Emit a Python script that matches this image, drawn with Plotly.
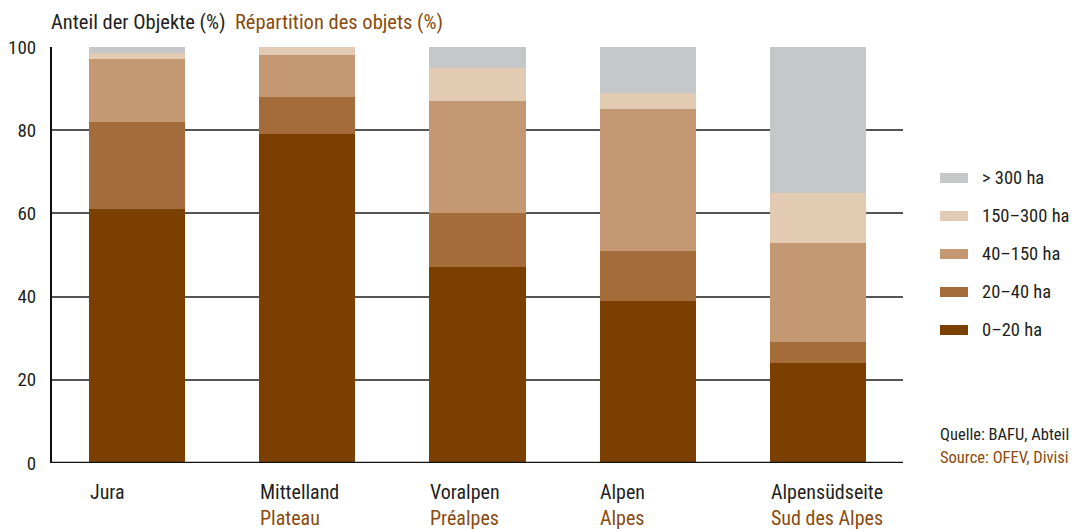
import plotly.graph_objects as go

# regions (German / French)
regions_de = ["Jura", "Mittelland", "Voralpen", "Alpen", "Alpensüdseite"]
regions_fr = ["", "Plateau", "Préalpes", "Alpes", "Sud des Alpes"]

# share of objects per size class (%)
ha_0_20 = [61, 79, 47, 39, 24]
ha_20_40 = [21, 9, 13, 12, 5]
ha_40_150 = [15, 10, 27, 34, 24]
ha_150_300 = [1.5, 2, 8, 4, 12]
ha_300 = [1.5, 0, 5, 11, 35]

y_ticks = [0, 20, 40, 60, 80, 100]

FONT = "Roboto Condensed, Roboto, Arial, sans-serif"
DARK = "#231f20"
BROWN = "#8a4b0e"

series = [
    ("0–20 ha", ha_0_20, "#7b4000"),
    ("20–40 ha", ha_20_40, "#a46c3a"),
    ("40–150 ha", ha_40_150, "#c39873"),
    ("150–300 ha", ha_150_300, "#e2cab3"),
    ("> 300 ha", ha_300, "#c6c7c9"),
]

x = list(range(len(regions_de)))

fig = go.Figure()
for name, vals, col in series:
    fig.add_trace(go.Bar(
        x=x, y=vals, name=name,
        marker=dict(color=col, line=dict(width=0)),
        width=0.565, showlegend=False,
    ))

# legend drawn by hand: wide flat swatches, top entry first
for row, (name, vals, col) in enumerate(reversed(series)):
    yc = 1 - (131 + 38 * row) / 416
    fig.add_shape(type="rect", xref="paper", yref="paper",
                  x0=1.0435, x1=1.0764, y0=yc - 5 / 416, y1=yc + 5 / 416,
                  line=dict(width=0), fillcolor=col)
    fig.add_annotation(x=1.0905, y=yc, xref="paper", yref="paper", text=name,
                       showarrow=False, xanchor="left", yanchor="middle",
                       font=dict(family=FONT, size=18.5, color=DARK))

# x labels, left aligned to the bar edge
for i, (de, fr) in enumerate(zip(regions_de, regions_fr)):
    fig.add_annotation(x=i - 0.29, y=0, xref="x", yref="y", text=de,
                       showarrow=False, xanchor="left", yanchor="middle", yshift=-29,
                       font=dict(family=FONT, size=20, color=DARK))
    if fr:
        fig.add_annotation(x=i - 0.29, y=0, xref="x", yref="y", text=fr,
                           showarrow=False, xanchor="left", yanchor="middle", yshift=-55,
                           font=dict(family=FONT, size=20, color=BROWN))

# title
title = ("Anteil der Objekte (%)  <span style='color:" + BROWN
         + "'>Répartition des objets (%)</span>")
fig.add_annotation(x=0, y=1, xref="paper", yref="paper", xshift=-3, yshift=25,
                   text=title, showarrow=False, xanchor="left", yanchor="middle",
                   font=dict(family=FONT, size=20.5, color=DARK))

# source
fig.add_annotation(x=1, y=0, xref="paper", yref="paper", xshift=35, yshift=29,
                   text="Quelle: BAFU, Abteilung Arten, Ökosysteme, Landschaften",
                   showarrow=False, xanchor="left", yanchor="middle",
                   font=dict(family=FONT, size=16.5, color=DARK))
fig.add_annotation(x=1, y=0, xref="paper", yref="paper", xshift=35, yshift=6,
                   text="Source: OFEV, Division Espèces, écosystèmes, paysages",
                   showarrow=False, xanchor="left", yanchor="middle",
                   font=dict(family=FONT, size=16.5, color=BROWN))

fig.update_layout(
    width=1069, height=521,
    barmode="stack",
    plot_bgcolor="white", paper_bgcolor="white",
    margin=dict(l=44, r=174, t=39, b=66, autoexpand=False),
    font=dict(family=FONT, size=18, color=DARK),
    showlegend=False,
    xaxis=dict(range=[-0.5, 4.5], showticklabels=False, showgrid=False,
               zeroline=False, showline=False, ticks="", automargin=False),
    yaxis=dict(range=[0, 100], tickvals=y_ticks, showgrid=True,
               gridcolor="#555555", gridwidth=1.5, zeroline=False,
               showline=True, linecolor="#111111", linewidth=2,
               ticks="", ticklabelstandoff=10, automargin=False,
               tickfont=dict(family=FONT, size=19, color=DARK)),
)

fig.add_shape(type="line", xref="paper", yref="y", x0=0, x1=1, y0=0, y1=0,
              line=dict(color="#111111", width=2.5))

fig.write_html("out.html")
